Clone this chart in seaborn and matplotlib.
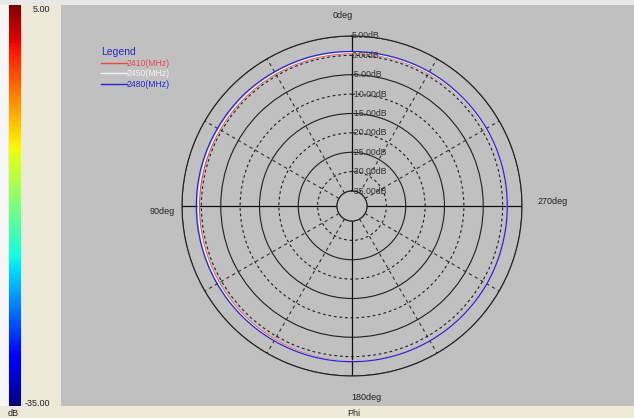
import matplotlib
matplotlib.use("Agg")
import matplotlib.pyplot as plt
import matplotlib.cm as cm
import matplotlib.colors as mcolors
from matplotlib.lines import Line2D
import numpy as np
import pandas as pd
import seaborn as sns

# Data (gain in dB vs phi)
phi_deg = [0, 15, 30, 45, 60, 75, 90, 105, 120, 135, 150, 165,
           180, 195, 210, 225, 240, 255, 270, 285, 300, 315, 330, 345]
gain_2410 = [0.5, 0.5, 0.5, 0.5, 0.5, 0.5, 0.5, 0.6, 0.7, 0.8, 0.9, 1.1,
             1.2, 1.2, 1.2, 1.2, 1.2, 1.2, 1.2, 1.1, 1.0, 0.9, 0.7, 0.6]
gain_2450 = [0.7, 0.7, 0.7, 0.7, 0.7, 0.8, 0.8, 0.8, 0.9, 1.0, 1.1, 1.2,
             1.2, 1.2, 1.2, 1.2, 1.2, 1.2, 1.2, 1.1, 1.0, 0.9, 0.8, 0.7]
gain_2480 = [1.0, 1.1, 1.1, 1.2, 1.2, 1.3, 1.3, 1.3, 1.3, 1.3, 1.3, 1.3,
             1.3, 1.3, 1.3, 1.3, 1.3, 1.2, 1.2, 1.2, 1.2, 1.1, 1.1, 1.0]
freq_labels = ["2410(MHz)", "2450(MHz)", "2480(MHz)"]
freq_colors = ["#E84848", "#F4F4F4", "#2424D8"]
ring_values = [-35, -30, -25, -20, -15, -10, -5, 0, 5]
ring_labels = ["-35.00dB", "-30.00dB", "-25.00dB", "-20.00dB", "-15.00dB",
               "-10.00dB", "-5.00dB", "0.00dB", "5.00dB"]

W, H = 634, 418


def fx(x, y):
    return x / W, 1 - y / H


rows = []
for lab, vals in zip(freq_labels, [gain_2410, gain_2450, gain_2480]):
    for p, v in zip(phi_deg + [360], vals + [vals[0]]):
        rows.append({"theta": np.deg2rad(p), "dB": v, "freq": lab})
df = pd.DataFrame(rows)

plt.rcParams["font.family"] = ["Liberation Sans", "DejaVu Sans"]

fig = plt.figure(figsize=(W / 100, H / 100), dpi=100, facecolor="#ECE9D8")

# panels
fig.add_artist(plt.Rectangle((61 / W, 12 / H), 573 / W, 401 / H,
                             transform=fig.transFigure, facecolor="#C0C0C0",
                             edgecolor="none", zorder=0))
fig.add_artist(plt.Rectangle((0, 1 - 5 / H), 1, 5 / H,
                             transform=fig.transFigure, facecolor="#E8E8E8",
                             edgecolor="none", zorder=0))
fig.add_artist(plt.Rectangle((0, 12 / H), 8 / W, 1 - 17 / H,
                             transform=fig.transFigure, facecolor="#F6F6F6",
                             edgecolor="none", zorder=0))

# colour bar
cax = fig.add_axes([9 / W, 12 / H, 12 / W, 401 / H])
sm = cm.ScalarMappable(norm=mcolors.Normalize(-35, 5), cmap="jet")
cb = fig.colorbar(sm, cax=cax)
cb.outline.set_visible(False)
cax.set_yticks([])
fig.text(*fx(33, 10), "5.00", fontsize=6.5, va="center", color="#202020")
fig.text(*fx(25, 403), "-35.00", fontsize=6.5, va="center", color="#202020")
fig.text(*fx(8, 413), "dB", fontsize=6.5, va="center", color="#202020")
fig.text(*fx(354, 413), "Phi", fontsize=6.5, va="center", ha="center", color="#202020")

# polar plot
ax = fig.add_axes([182 / W, 42 / H, 340 / W, 340 / H], projection="polar")
ax.set_facecolor("none")
ax.set_theta_zero_location("N")
ax.set_theta_direction(1)

sns.lineplot(data=df, x="theta", y="dB", hue="freq", hue_order=freq_labels,
             palette=dict(zip(freq_labels, freq_colors)), sort=False,
             linewidth=0.9, legend=False, ax=ax, zorder=5)
# draw the traces as arcs between samples, not chords
for ln in ax.lines:
    ln.get_path()._interpolation_steps = 30

ax.set_ylim(-35, 5)
ax.set_rorigin(-35 - 15 * 40 / 155)
ax.set_rgrids(ring_values, labels=[""] * len(ring_values))
ax.set_thetagrids(range(0, 360, 30), labels=[""] * 12)
ax.set_xlabel("")
ax.set_ylabel("")
ax.grid(True)

for v, line in zip(ring_values, ax.yaxis.get_gridlines()):
    if v % 10 == 0:
        line.set(color="#202020", linewidth=0.8, linestyle=(0, (2.5, 2.5)))
    else:
        line.set(color="#202020", linewidth=0.8, linestyle="-")
for a, line in zip(range(0, 360, 30), ax.xaxis.get_gridlines()):
    if a % 90 == 0:
        line.set(color="#101010", linewidth=0.9, linestyle="-")
    else:
        line.set(color="#303030", linewidth=0.8, linestyle=(0, (3, 3)))
for name, sp in ax.spines.items():
    sp.set_color("#202020")
    sp.set_linewidth(0.8)

for v, lab in zip(ring_values, ring_labels):
    ax.text(0, v, lab, ha="left", va="center", fontsize=6.3,
            color="#303030", zorder=6)

fig.text(*fx(343, 15), "0deg", fontsize=6.5, ha="center", va="center", color="#202020")
fig.text(*fx(162, 212), "90deg", fontsize=6.5, ha="center", va="center", color="#202020")
fig.text(*fx(366, 397), "180deg", fontsize=6.5, ha="center", va="center", color="#202020")
fig.text(*fx(553, 201), "270deg", fontsize=6.5, ha="center", va="center", color="#202020")

# legend
handles = [Line2D([], [], color=c, linewidth=1) for c in freq_colors]
leg = fig.legend(handles, freq_labels, loc="upper left",
                 bbox_to_anchor=fx(101, 47), frameon=False, title="Legend",
                 fontsize=6.2, title_fontsize=7.5, handlelength=3.0,
                 handletextpad=0.0, labelspacing=0.2, borderpad=0,
                 borderaxespad=0, alignment="left")
leg.get_title().set_color("#2828C8")
for t, c in zip(leg.get_texts(), freq_colors):
    t.set_color(c)

fig.savefig("out.png", dpi=100, facecolor=fig.get_facecolor())
